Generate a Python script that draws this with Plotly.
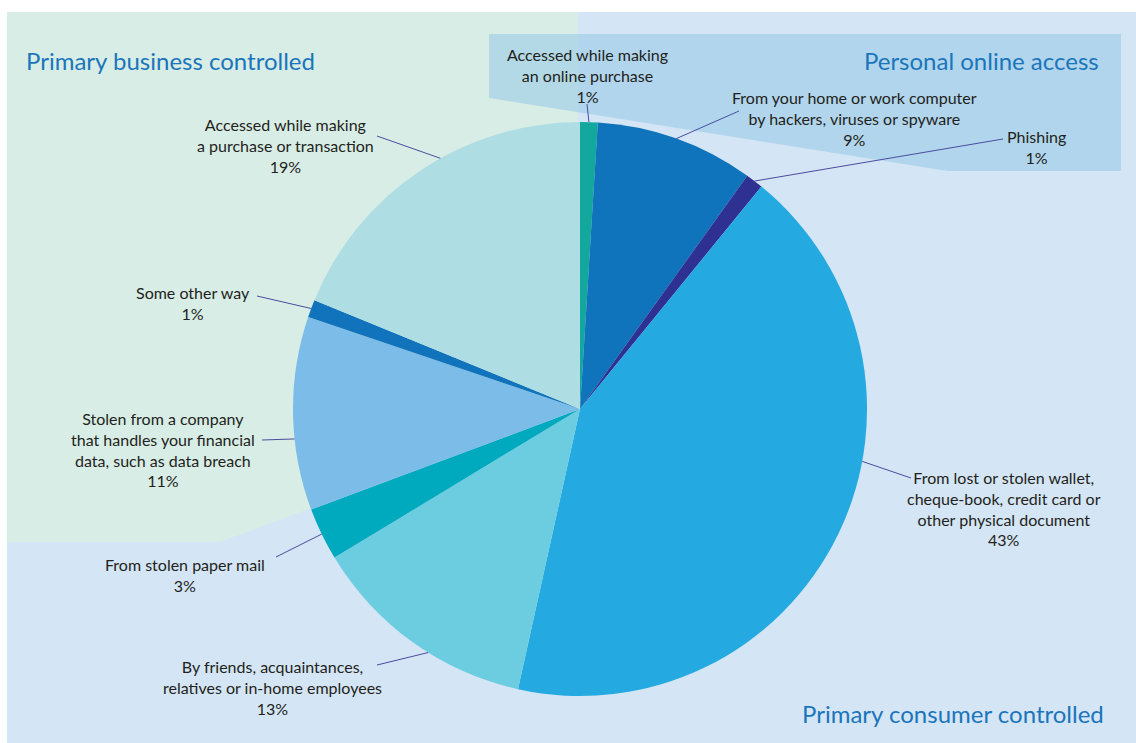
import math
import plotly.graph_objects as go

# ---- data -------------------------------------------------------------
categories = [
    "Accessed while making<br>an online purchase",
    "From your home or work computer<br>by hackers, viruses or spyware",
    "Phishing",
    "From lost or stolen wallet,<br>cheque-book, credit card or<br>other physical document",
    "By friends, acquaintances,<br>relatives or in-home employees",
    "From stolen paper mail",
    "Stolen from a company<br>that handles your financial<br>data, such as data breach",
    "Some other way",
    "Accessed while making<br>a purchase or transaction",
]
shares = [1, 9, 1, 43, 13, 3, 11, 1, 19]
slice_colors = ["#12a89d", "#0f74bb", "#2e3192", "#24a9e1", "#6ccde1",
                "#00aabe", "#7bbce8", "#1173bc", "#aedde3"]
region_titles = ["Primary business controlled", "Personal online access",
                 "Primary consumer controlled"]

# ---- page geometry (pixels) -------------------------------------------
W, H = 1136, 743
CX, CY, R = 580, 409, 287


def px(x):
    return x / W


def py(y):
    return 1 - y / H


# where each leader touches the rim, as a fraction across its slice
leader_frac = [0.5, 0.5, 0.5, 0.40, 0.42, 0.5, 0.37, 0.5, 0.57]
# outer end of each leader line and the centre of each label block
leader_out = [(587, 104), (739, 111), (1003, 139), (911, 478), (377, 665),
              (276, 557), (262, 440), (257, 296), (377, 136)]
label_pos = [(587, 75), (854, 118), (1036, 147), (1004, 508), (272, 687),
             (185, 575), (163, 449), (193, 303), (285, 146)]

LABEL_FONT = dict(family="Lato", size=16, color="#231f20")
TITLE_FONT = dict(family="Lato", size=24, color="#1b75bb")
LEADER = "#4b4c9f"

fig = go.Figure()
fig.add_trace(go.Pie(
    labels=categories,
    values=shares,
    sort=False,
    direction="clockwise",
    rotation=0,
    marker=dict(colors=slice_colors, line=dict(width=0)),
    textinfo="none",
    hoverinfo="label+value",
    showlegend=False,
    domain=dict(x=[px(CX - R), px(CX + R)], y=[py(CY + R), py(CY - R)]),
))


def poly(points):
    return "M " + " L ".join(f"{px(x):.5f},{py(y):.5f}" for x, y in points) + " Z"


shapes = [
    # consumer-controlled panel
    dict(type="rect", xref="paper", yref="paper", layer="below",
         x0=px(7), x1=1, y0=0, y1=py(12),
         fillcolor="#d4e5f5", line=dict(width=0)),
    # business-controlled region
    dict(type="path", xref="paper", yref="paper", layer="below",
         path=poly([(7, 12), (578, 12), (578, CY), (220, 542), (7, 542)]),
         fillcolor="#d8ede6", line=dict(width=0)),
    # personal online access band
    dict(type="path", xref="paper", yref="paper", layer="below",
         path=poly([(489, 34), (1121, 34), (1121, 171), (948, 171), (489, 98)]),
         fillcolor="rgba(140,197,227,0.5)", line=dict(width=0)),
]

total = sum(shares)
start = 0
annotations = []
for i, v in enumerate(shares):
    ang = math.radians((start + leader_frac[i] * v) / total * 360)
    start += v
    rx, ry = CX + R * math.sin(ang), CY - R * math.cos(ang)
    ox, oy = leader_out[i]
    shapes.append(dict(type="line", xref="paper", yref="paper",
                       x0=px(ox), y0=py(oy), x1=px(rx), y1=py(ry),
                       line=dict(color=LEADER, width=1)))
    lx, ly = label_pos[i]
    annotations.append(dict(
        x=px(lx), y=py(ly), xref="paper", yref="paper",
        text=f"{categories[i]}<br>{v}%", showarrow=False,
        xanchor="center", yanchor="middle", align="center",
        font=LABEL_FONT))

# region titles
for text, (x, y, anchor) in zip(region_titles,
                                [(24, 60, "left"), (1101, 60, "right"),
                                 (1106, 713, "right")]):
    annotations.append(dict(x=px(x), y=py(y), xref="paper", yref="paper",
                            text=text, showarrow=False, xanchor=anchor,
                            yanchor="middle", font=TITLE_FONT))

fig.update_layout(
    width=W, height=H,
    margin=dict(l=0, r=0, t=0, b=0),
    paper_bgcolor="white",
    plot_bgcolor="white",
    shapes=shapes,
    annotations=annotations,
)

fig.write_html("out.html")
